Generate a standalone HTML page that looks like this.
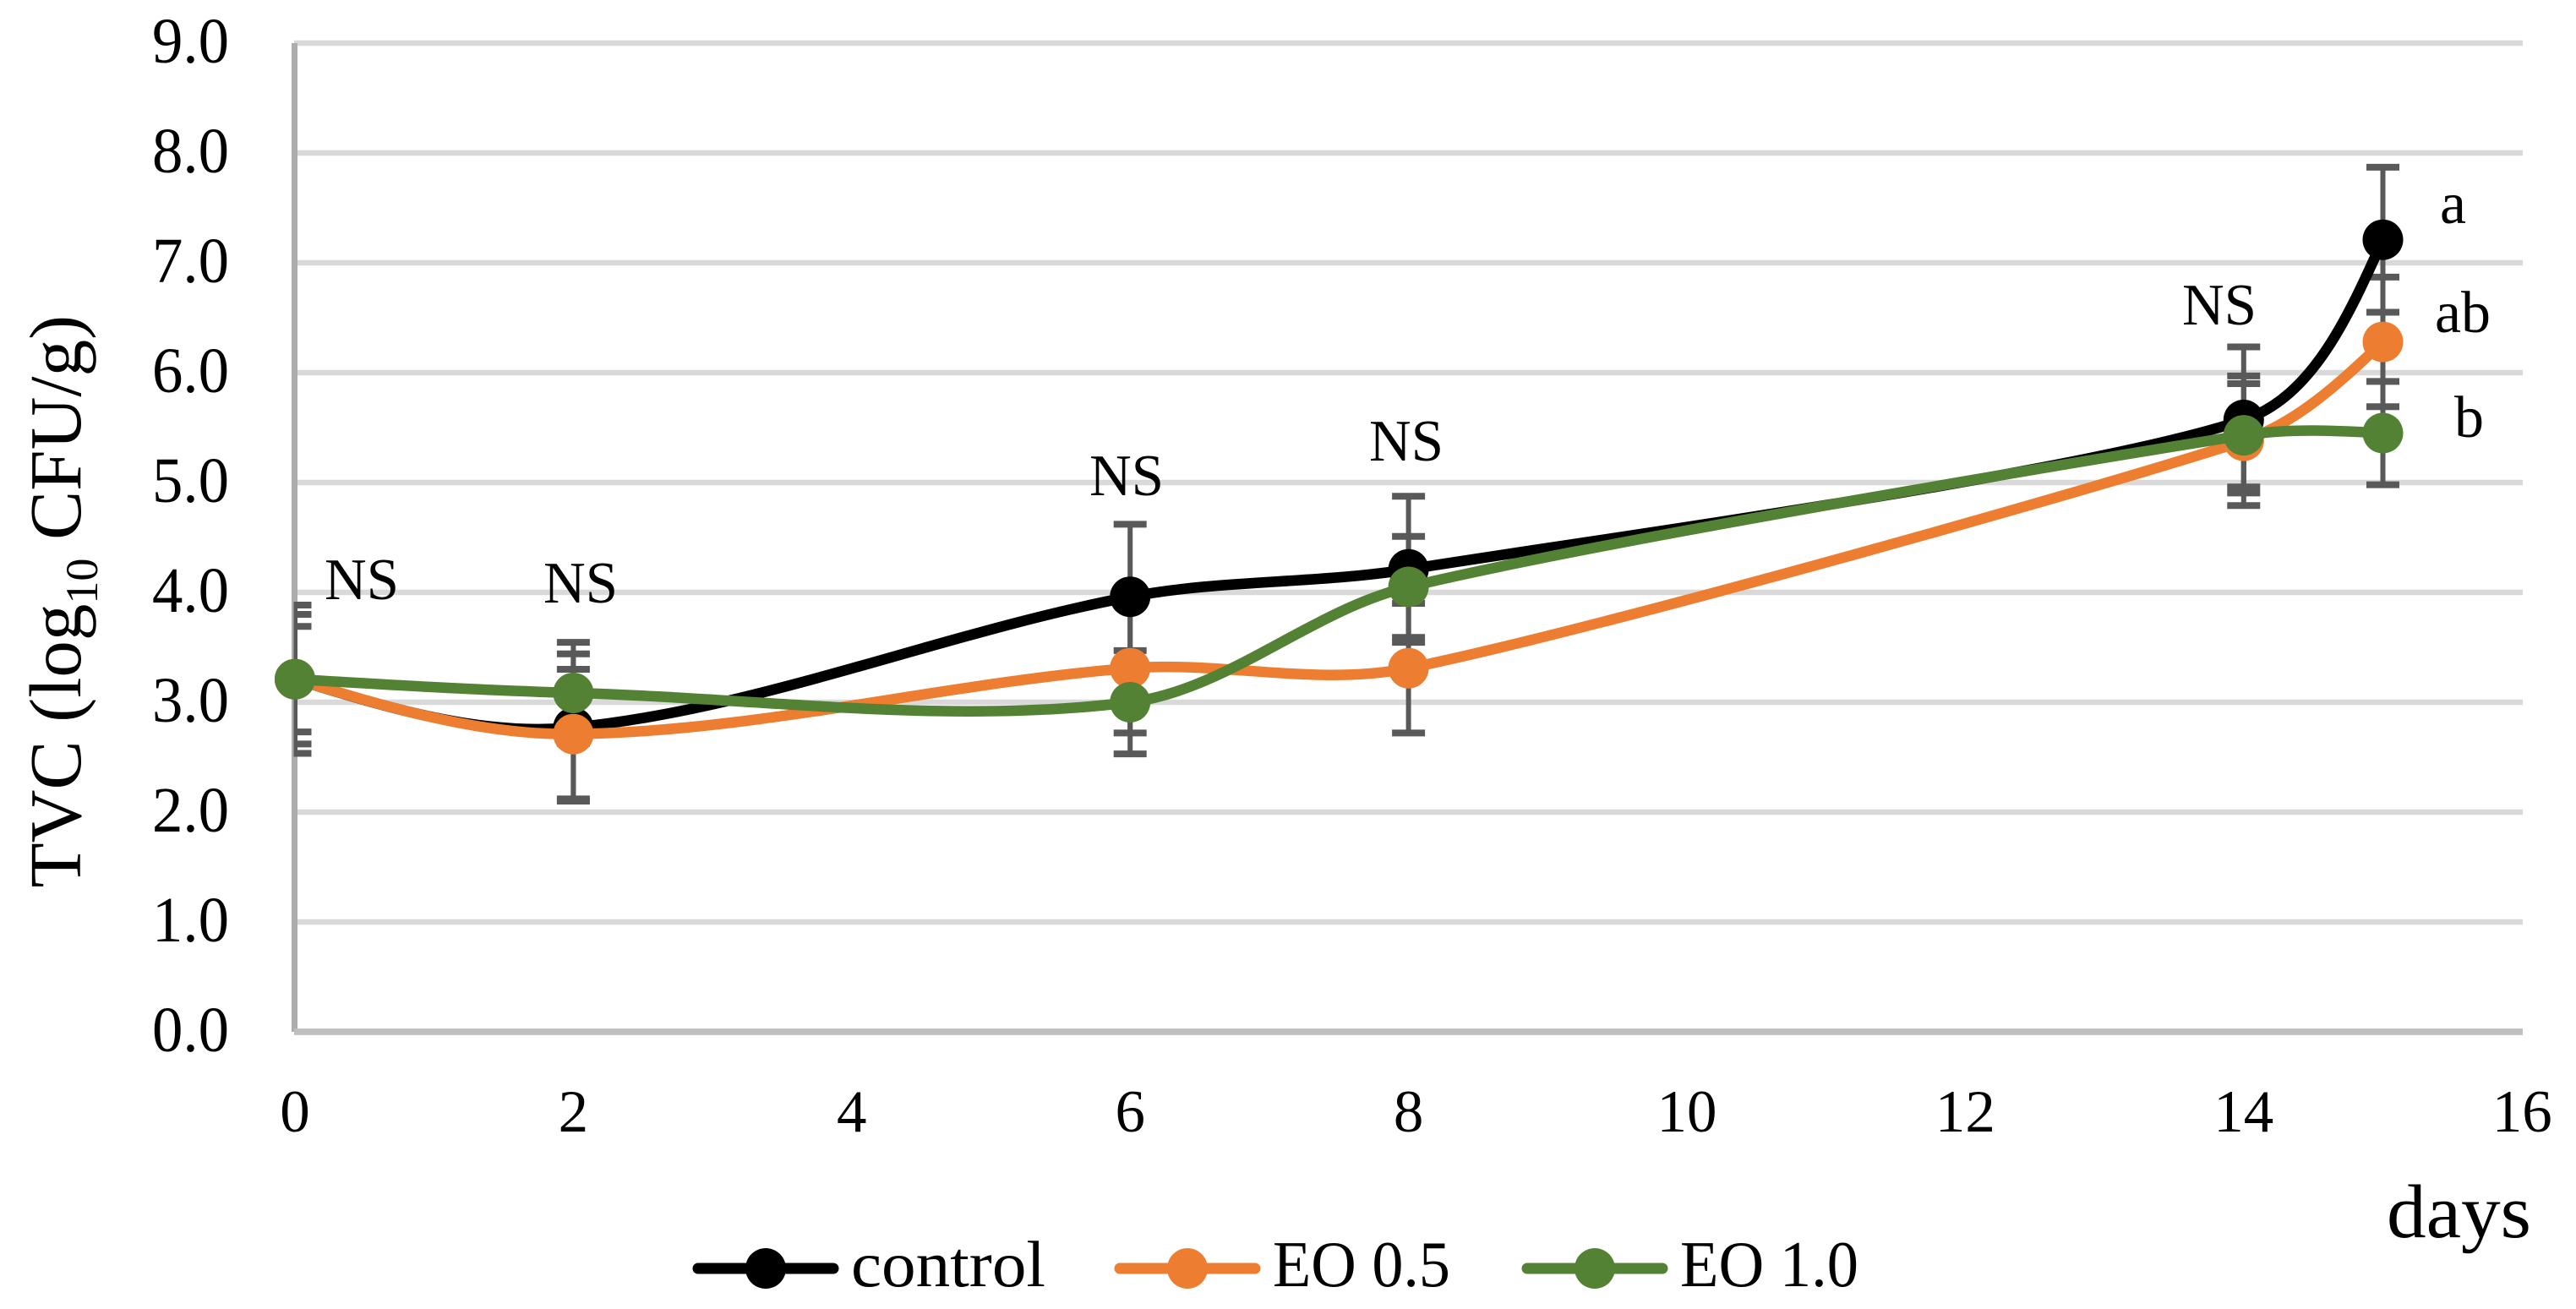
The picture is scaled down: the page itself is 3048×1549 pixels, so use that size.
<!DOCTYPE html>
<html lang="en">
<head>
<meta charset="utf-8">
<title>TVC over storage days</title>
<style>
  html, body { margin: 0; padding: 0; background: #ffffff; }
  svg { display: block; }
  text { font-family: "Liberation Serif", serif; fill: #000000; }
</style>
</head>
<body>
<svg id="chart" xmlns="http://www.w3.org/2000/svg" width="3048" height="1549" viewBox="0 0 3048 1549">
  <defs>
    <clipPath id="plot-clip"><rect x="347.5" y="0" width="2700" height="1549"></rect></clipPath>
  </defs>
  <rect x="0" y="0" width="3048" height="1549" fill="#ffffff"></rect>
  <g id="grid"></g>
  <g id="axes"></g>
  <g id="ticks"></g>
  <g id="errors" clip-path="url(#plot-clip)"></g>
  <g id="series"></g>

  <text transform="translate(95,1050.5) rotate(-90)" font-size="87">TVC (log<tspan font-size="54" dy="20">10</tspan><tspan dy="-20"> CFU/g)</tspan></text>
  <text x="2824" y="1464" font-size="90" textLength="171" lengthAdjust="spacingAndGlyphs">days</text>

  <text x="384" y="709" font-size="70" textLength="88" lengthAdjust="spacingAndGlyphs">NS</text>
  <text x="643" y="713" font-size="70" textLength="88" lengthAdjust="spacingAndGlyphs">NS</text>
  <text x="1289" y="586" font-size="70" textLength="88" lengthAdjust="spacingAndGlyphs">NS</text>
  <text x="1620" y="545" font-size="70" textLength="88" lengthAdjust="spacingAndGlyphs">NS</text>
  <text x="2582" y="384" font-size="70" textLength="88" lengthAdjust="spacingAndGlyphs">NS</text>
  <text x="2887" y="264" font-size="70" textLength="31" lengthAdjust="spacingAndGlyphs">a</text>
  <text x="2881" y="393" font-size="70" textLength="66" lengthAdjust="spacingAndGlyphs">ab</text>
  <text x="2904" y="517" font-size="70" textLength="35" lengthAdjust="spacingAndGlyphs">b</text>

  <g id="legend"></g>
</svg>
<script>
var days = [0, 2, 6, 8, 14, 15];
var controlValues = [3.21, 2.77, 3.96, 4.21, 5.57, 7.21];
var eo05Values = [3.21, 2.71, 3.31, 3.31, 5.38, 6.28];
var eo10Values = [3.21, 3.085, 3.0, 4.05, 5.43, 5.45];
var controlErrors = [0.675, 0.67, 0.66, 0.665, 0.665, 0.66];
var eo05Errors = [0.59, 0.59, 0.59, 0.59, 0.59, 0.59];
var eo10Errors = [0.48, 0.46, 0.47, 0.46, 0.47, 0.47];
var yTickLabels = ["0.0", "1.0", "2.0", "3.0", "4.0", "5.0", "6.0", "7.0", "8.0", "9.0"];
var xTickLabels = ["0", "2", "4", "6", "8", "10", "12", "14", "16"];
var seriesNames = ["control", "EO 0.5", "EO 1.0"];

var NS = "http://www.w3.org/2000/svg";
var COLORS = ["#000000", "#ed7d31", "#548235"];
var LEGEND_TEXT_WIDTHS = [230, 210, 211];

function xAxis(d) { return 349 + d * 164.7; }
function yAxis(v) { return 1221 - v * 130; }

function make(tag, parent, attrs) {
  var el = document.createElementNS(NS, tag);
  for (var k in attrs) { el.setAttribute(k, attrs[k]); }
  parent.appendChild(el);
  return el;
}

function smoothPath(pts) {
  function dist(a, b) { return Math.hypot(a[0] - b[0], a[1] - b[1]); }
  function handle(prev, cur, next, segLen) {
    var chord = dist(prev, next);
    var dA = dist(prev, cur), dB = dist(cur, next);
    var len = Math.min(chord * segLen / (3 * (dA + dB)), 0.72 * Math.min(dA, dB));
    return [(next[0] - prev[0]) / chord * len, (next[1] - prev[1]) / chord * len];
  }
  var n = pts.length;
  var d = "M" + pts[0][0] + " " + pts[0][1];
  for (var i = 0; i < n - 1; i++) {
    var p1 = pts[i], p2 = pts[i + 1];
    var p0 = i > 0 ? pts[i - 1] : null;
    var p3 = i < n - 2 ? pts[i + 2] : null;
    var d2 = dist(p1, p2);
    var c1 = null, c2 = null;
    if (p0) {
      var h1 = handle(p0, p1, p2, d2);
      c1 = [p1[0] + h1[0], p1[1] + h1[1]];
    }
    if (p3) {
      var h2 = handle(p1, p2, p3, d2);
      c2 = [p2[0] - h2[0], p2[1] - h2[1]];
    }
    if (!c1) { c1 = [p1[0] + (c2[0] - p1[0]) * 0.5, p1[1] + (c2[1] - p1[1]) * 0.5]; }
    if (!c2) { c2 = [p2[0] + (c1[0] - p2[0]) * 0.5, p2[1] + (c1[1] - p2[1]) * 0.5]; }
    d += " C" + c1[0] + " " + c1[1] + " " + c2[0] + " " + c2[1] + " " + p2[0] + " " + p2[1];
  }
  return d;
}

var gridGroup = document.getElementById("grid");
var axesGroup = document.getElementById("axes");
var tickGroup = document.getElementById("ticks");
var errorGroup = document.getElementById("errors");
var seriesGroup = document.getElementById("series");
var legendGroup = document.getElementById("legend");

yTickLabels.forEach(function (label) {
  var v = parseFloat(label);
  if (v > 0) {
    var g = make("line", gridGroup, { x1: 348, x2: 2985, y1: yAxis(v), y2: yAxis(v), stroke: "#d9d9d9", "stroke-width": 6.6 });
    
    
  }
  var t = make("text", tickGroup, { x: 271, y: yAxis(v) + 23, "font-size": 76, "text-anchor": "end", textLength: 91, lengthAdjust: "spacingAndGlyphs" });
  t.textContent = label;
  
  
});

xTickLabels.forEach(function (label) {
  var t = make("text", tickGroup, { x: xAxis(parseFloat(label)), y: 1339, "font-size": 71, "text-anchor": "middle" });
  t.textContent = label;
  
  
});

var yLine = make("line", axesGroup, { x1: 348.5, x2: 348.5, y1: yAxis(9), y2: yAxis(0), stroke: "#adadad", "stroke-width": 7 });


var xLine = make("line", axesGroup, { x1: 348, x2: 2985, y1: yAxis(0), y2: yAxis(0), stroke: "#bfbfbf", "stroke-width": 7.8 });



var allValues = [controlValues, eo05Values, eo10Values];
var allErrors = [controlErrors, eo05Errors, eo10Errors];

allValues.forEach(function (values, s) {
  values.forEach(function (v, i) {
    var x = xAxis(days[i]);
    var e = allErrors[s][i];
    var top = yAxis(v + e), bottom = yAxis(v - e);
    var stem = make("line", errorGroup, { x1: x, x2: x, y1: top, y2: bottom, stroke: "#595959", "stroke-width": 6 });
    
    
    var capTop = make("line", errorGroup, { x1: x - 19.5, x2: x + 19.5, y1: top, y2: top, stroke: "#595959", "stroke-width": 8 });
    
    
    var capBottom = make("line", errorGroup, { x1: x - 19.5, x2: x + 19.5, y1: bottom, y2: bottom, stroke: "#595959", "stroke-width": 8 });
    
    
  });
});

allValues.forEach(function (values, s) {
  var pts = values.map(function (v, i) { return [xAxis(days[i]), yAxis(v)]; });
  var path = make("path", seriesGroup, { d: smoothPath(pts), fill: "none", stroke: COLORS[s], "stroke-width": 12.5, "stroke-linejoin": "round" });
  
  
  pts.forEach(function (p) {
    var c = make("circle", seriesGroup, { cx: p[0], cy: p[1], r: 24, fill: COLORS[s] });
    
    
  });
});

var legendX = [820, 1319, 1801];
seriesNames.forEach(function (name, s) {
  var x0 = legendX[s];
  var line = make("line", legendGroup, { x1: x0 + 6, x2: x0 + 166, y1: 1501, y2: 1501, stroke: COLORS[s], "stroke-width": 13, "stroke-linecap": "round" });
  
  
  var dot = make("circle", legendGroup, { cx: x0 + 86, cy: 1501, r: 24, fill: COLORS[s] });
  
  
  var label = make("text", legendGroup, { x: x0 + 187, y: 1522, "font-size": 77, textLength: LEGEND_TEXT_WIDTHS[s], lengthAdjust: "spacingAndGlyphs" });
  label.textContent = name;
  
  
});
</script>
</body>
</html>
